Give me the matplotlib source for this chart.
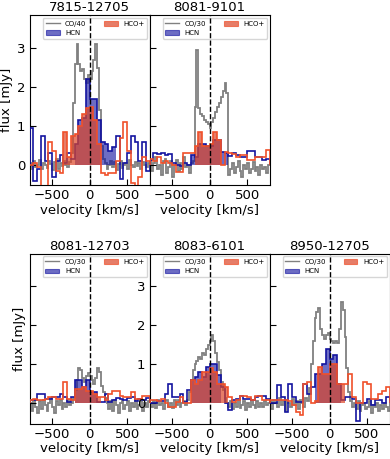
import numpy as np
import matplotlib
matplotlib.use('Agg')
from matplotlib import pyplot as plt
import matplotlib.patches as mpatches

# channel edges [km/s]
co_edges = np.arange(-800, 801, 25)
mol_edges = np.arange(-800, 801, 50)

names = ['7815-12705', '8081-9101', '8081-12703', '8083-6101', '8950-12705']
co_labels = ['CO/40', 'CO/30', 'CO/30', 'CO/30', 'CO/30']

# CO spectra, already divided by the scale factor [mJy]
co_7815 = [0.05, -0.1, 0.1, -0.05, 0.0, 0.12, -0.1, 0.05, 0.0, -0.08, 0.1, 0.02, -0.12, 0.08, 0.15, -0.1,
           0.05, -0.03, 0.1, 0.0, -0.06, 0.08, 0.3, 1.6, 2.6, 3.1, 2.6, 2.4, 2.45, 2.2, 2.1, 2.3,
           2.2, 2.4, 2.7, 3.1, 2.5, 1.4, 0.5, 0.15, 0.05, -0.1, 0.0, 0.1, -0.05, 0.08, -0.12, 0.03,
           0.1, -0.08, 0.0, 0.06, -0.1, 0.12, 0.0, -0.05, 0.09, -0.02, 0.05, -0.1, 0.07, 0.0, -0.06, 0.04]
co_8081a = [0.1, -0.15, 0.05, 0.2, -0.1, 0.0, -0.25, 0.1, 0.15, -0.2, -0.05, 0.1, -0.3, 0.0, 0.12, -0.15,
            0.05, -0.1, 0.2, -0.05, 0.0, -0.2, 0.05, 0.1, 1.5, 2.95, 1.45, 1.3, 1.25, 1.15, 1.1, 1.05,
            0.95, 1.1, 1.2, 1.35, 1.5, 1.6, 1.75, 1.9, 2.1, 1.85, -0.25, -0.1, 0.05, -0.2, -0.05, 0.1,
            -0.15, -0.3, 0.0, -0.1, 0.05, -0.2, -0.1, 0.08, -0.15, -0.05, -0.25, 0.0, -0.1, -0.05, -0.2, 0.0]
co_8081b = [0.0, -0.2, 0.1, -0.1, -0.25, 0.05, -0.15, 0.1, -0.05, -0.2, 0.0, 0.15, -0.1, -0.25, 0.05, -0.05,
            0.1, -0.15, 0.0, -0.1, 0.1, -0.05, 0.0, 0.15, 0.35, 0.6, 0.9, 0.85, 0.65, 0.55, 0.7, 0.78,
            0.7, 0.6, 0.5, 0.65, 0.9, 0.8, 0.45, 0.3, 0.15, 0.0, -0.15, 0.05, -0.2, 0.1, -0.05, -0.25,
            0.0, 0.1, -0.15, -0.05, 0.05, -0.2, 0.0, -0.1, 0.1, -0.15, -0.05, 0.05, -0.2, 0.0, -0.1, 0.05]
co_8083 = [0.0, -0.1, 0.05, -0.12, 0.1, -0.05, 0.0, -0.15, 0.05, 0.1, -0.08, 0.0, -0.12, 0.08, -0.05, 0.1,
           -0.1, 0.0, 0.05, -0.05, 0.1, 0.3, 0.6, 0.85, 1.0, 1.1, 1.2, 1.15, 1.3, 1.25, 1.4, 1.5,
           1.6, 1.75, 1.6, 1.3, 1.05, 0.85, 0.55, 0.35, 0.15, 0.0, -0.1, 0.05, -0.15, 0.0, -0.08, 0.1,
           -0.12, -0.05, 0.05, -0.18, 0.0, -0.1, 0.08, -0.05, -0.12, 0.05, -0.08, 0.0, -0.1, 0.05, -0.05, 0.0]
co_8950 = [0.05, -0.15, 0.1, 0.0, -0.1, 0.15, -0.05, 0.05, -0.2, 0.1, 0.0, -0.1, 0.12, -0.05, 0.05, -0.15,
           0.1, 0.0, -0.08, 0.15, 0.05, 0.4, 1.0, 1.6, 2.2, 2.35, 2.45, 1.9, 1.75, 1.65, 1.75, 1.8,
           1.65, 1.6, 1.55, 1.6, 1.55, 1.9, 2.6, 2.4, 1.7, 0.9, 0.3, 0.05, -0.1, 0.0, -0.15, 0.05,
           -0.2, -0.05, 0.0, -0.15, -0.1, 0.05, -0.25, -0.05, -0.1, 0.0, -0.2, -0.05, -0.15, 0.0, -0.1, -0.2]

# HCN spectra [mJy]
hcn_7815 = [0.95, -0.4, -0.1, 0.75, 0.1, 0.3, -0.3, 0.1, 0.25, 0.05, 0.3, 0.15, 0.55, 1.15, 1.2, 2.2,
            1.7, 1.7, 1.15, 0.6, 0.55, 0.35, 0.45, 0.75, -0.35, 0.05, 0.3, 0.75, 0.6, 0.1, 0.6, -0.15]
hcn_8081a = [0.13, 0.3, 0.28, 0.3, 0.25, 0.28, 0.05, 0.0, -0.02, 0.05, 0.0, 0.25, 0.2, 0.55, 0.55, 0.5,
             0.5, 0.64, 0.64, 0.34, 0.3, 0.22, 0.3, 0.25, 0.2, 0.2, 0.36, 0.36, 0.2, 0.2, 0.12, 0.15]
hcn_8081b = [0.08, 0.08, 0.25, 0.25, 0.12, 0.12, 0.16, 0.16, 0.25, 0.16, 0.03, 0.16, 0.6, 0.6, 0.42, 0.6,
             0.3, 0.3, 0.03, 0.03, 0.25, 0.03, 0.1, 0.15, 0.12, 0.1, 0.15, 0.16, 0.05, 0.12, 0.1, 0.15]
hcn_8083 = [0.0, 0.0, 0.05, 0.05, 0.25, 0.5, 0.16, 0.16, 0.25, 0.03, 0.35, 0.6, 0.68, 0.8, 0.68, 0.93,
            1.02, 1.02, 0.72, 0.42, 0.0, -0.18, 0.1, 0.12, 0.2, 0.12, 0.12, 0.08, 0.16, 0.2, 0.2, 0.12]
hcn_8950 = [0.0, 0.0, 0.46, 0.16, -0.22, 0.5, 0.16, 0.03, 0.03, 0.5, 0.25, 0.42, 0.76, 0.76, 1.02, 1.4,
            1.15, 1.23, 0.5, 0.08, 0.16, 0.16, 0.12, -0.44, 0.0, 0.0, 0.12, -0.05, 0.08, 0.08, 0.0, 0.16]

# HCO+ spectra [mJy]
hco_7815 = [0.0, 0.05, -0.05, -0.55, -0.6, 0.6, 0.35, -0.15, -0.2, 0.85, 0.2, 0.75, 0.8, 1.0, 1.3, 1.45,
            1.5, 1.15, 0.55, -0.2, -0.25, -0.2, -0.2, 0.1, 0.7, 1.1, 0.35, -0.45, -0.55, -0.3, 0.2, 0.1]
hco_8081a = [0.15, 0.1, 0.2, 0.05, 0.1, 0.05, 0.0, -0.17, -0.17, 0.3, 0.3, 0.3, 0.5, 0.85, 0.5, 0.5,
             0.55, 0.85, 0.64, 0.0, 0.34, 0.3, 0.28, 0.2, 0.25, 0.25, 0.12, 0.12, 0.2, 0.2, 0.2, 0.38]
hco_8081b = [0.1, 0.12, 0.08, 0.1, 0.12, 0.16, 0.16, 0.12, 0.12, 0.55, 0.12, 0.08, 0.38, 0.38, 0.42, 0.33,
             0.33, 0.25, 0.16, 0.16, 0.08, 0.25, 0.33, 0.33, 0.2, 0.16, 0.16, 0.3, 0.12, 0.12, 0.2, 0.2]
hco_8083 = [0.08, 0.1, 0.05, 0.12, 0.0, -0.1, -0.1, 0.03, 0.16, 0.0, 0.0, 0.6, 0.5, 0.6, 0.8, 0.8,
            0.9, 0.8, 0.5, 0.5, 0.42, 0.16, 0.03, 0.08, 0.2, 0.2, 0.16, 0.08, 0.2, 0.2, 0.08, 0.08]
hco_8950 = [0.08, 0.08, 0.08, 0.08, 0.1, 0.05, -0.05, -0.22, -0.3, 0.5, 0.55, 0.0, 0.05, 0.93, 0.76, 0.76,
            1.02, 1.02, 0.5, 0.5, 0.5, 0.76, 0.16, 0.0, 0.0, 0.55, 0.5, 0.12, 0.12, 0.25, 0.33, 0.42]

# integration windows [km/s]
hcn_win = [(-200, 350), (-250, 250), (-200, 150), (-250, 150), (-200, 150)]
hco_win = [(-350, 150), (-200, 150), (-200, 150), (-250, 250), (-200, 200)]

co_all = [co_7815, co_8081a, co_8081b, co_8083, co_8950]
hcn_all = [hcn_7815, hcn_8081a, hcn_8081b, hcn_8083, hcn_8950]
hco_all = [hco_7815, hco_8081a, hco_8081b, hco_8083, hco_8950]

hcn_edge, hcn_fill, hcn_alpha = '#1414a0', '#1414a0', 0.62
hco_edge, hco_fill, hco_alpha = '#f0502a', '#dc4628', 0.7

W, H = 390, 459
fig = plt.figure(figsize=(W / 100, H / 100), dpi=100)
pos = [(29.7, 15.3), (149.6, 15.3), (29.7, 253.7), (149.6, 253.7), (269.5, 253.7)]
pw, ph = 120, 170


def window(vals, win):
    vals = np.asarray(vals)
    sel = np.where((mol_edges[:-1] >= win[0]) & (mol_edges[1:] <= win[1]))[0]
    return vals[sel[0]:sel[-1] + 1], mol_edges[sel[0]:sel[-1] + 2]


for k in range(5):
    x0, y0 = pos[k]
    ax = fig.add_axes([x0 / W, 1 - (y0 + ph) / H, pw / W, ph / H])
    ax.stairs(co_all[k], co_edges, color='gray', lw=1.3, zorder=1)
    v, e = window(hcn_all[k], hcn_win[k])
    ax.stairs(v, e, fill=True, color=hcn_fill, alpha=hcn_alpha, lw=0, zorder=2)
    ax.stairs(hcn_all[k], mol_edges, color=hcn_edge, lw=1.2, zorder=3)
    v, e = window(hco_all[k], hco_win[k])
    ax.stairs(v, e, fill=True, color=hco_fill, alpha=hco_alpha, lw=0, zorder=4)
    ax.stairs(hco_all[k], mol_edges, color=hco_edge, lw=1.2, zorder=5)
    ax.axvline(0, color='k', ls='--', lw=1, zorder=6)

    ax.set_xlim(-800, 800)
    ax.set_ylim(-0.52, 3.84)
    ax.set_xticks([-500, 0, 500])
    ax.set_yticks([0, 1, 2, 3])
    ax.tick_params(direction='in', length=4, labelsize=9.5, pad=3)
    if k not in (0, 3):
        ax.tick_params(labelleft=False)
    if k in (0, 2):
        ax.set_ylabel('flux [mJy]', fontsize=9.5, labelpad=3)
    ax.set_xlabel('velocity [km/s]', fontsize=9.5, labelpad=1)
    ax.set_title(names[k], fontsize=9.5, pad=3)

    handles = [plt.Line2D([], [], color='gray', lw=1),
               mpatches.Patch(facecolor=hcn_fill, edgecolor=hcn_edge, alpha=hcn_alpha, lw=0.8),
               mpatches.Patch(facecolor=hco_fill, edgecolor=hco_edge, alpha=hco_alpha, lw=0.8)]
    ax.legend(handles, [co_labels[k], 'HCN', 'HCO+'], loc='upper right', ncol=2, fontsize=5,
              borderaxespad=0.35, columnspacing=2.5)

fig.savefig('out.png', dpi=100)
